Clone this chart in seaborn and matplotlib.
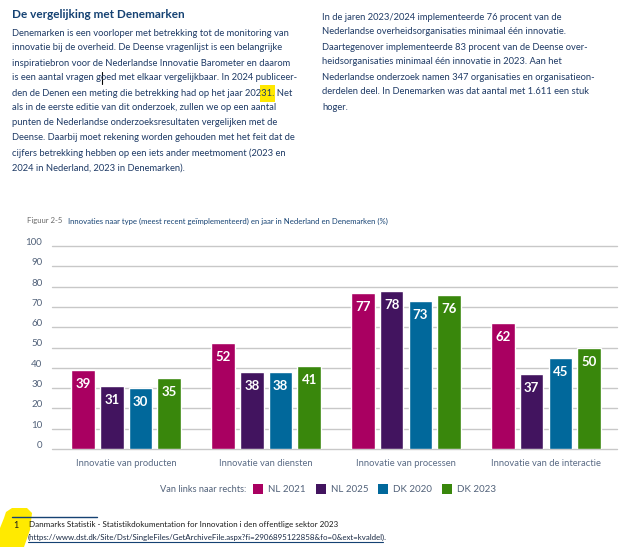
import matplotlib
matplotlib.use("Agg")
import matplotlib.pyplot as plt
import seaborn as sns
import pandas as pd
from matplotlib.patches import Rectangle, Polygon
from matplotlib.lines import Line2D
from matplotlib.transforms import ScaledTranslation

# ---------------- data ----------------
categories = ["Innovatie van producten", "Innovatie van diensten",
              "Innovatie van processen", "Innovatie van de interactie"]
series = ["NL 2021", "NL 2025", "DK 2020", "DK 2023"]
nl2021 = [39, 52, 77, 62]
nl2025 = [31, 38, 78, 37]
dk2020 = [30, 38, 73, 45]
dk2023 = [35, 41, 76, 50]
yticks = list(range(0, 101, 10))
colors = ["#A90061", "#42145F", "#01689B", "#39870C"]

title = "De vergelijking met Denemarken"
left_lines = [
    "Denemarken is een voorloper met betrekking tot de monitoring van",
    "innovatie bij de overheid. De Deense vragenlijst is een belangrijke",
    "inspiratiebron voor de Nederlandse Innovatie Barometer en daarom",
    "is een aantal vragen goed met elkaar vergelijkbaar. In 2024 publiceer-",
    "den de Denen een meting die betrekking had op het jaar 20231. Net",
    "als in de eerste editie van dit onderzoek, zullen we op een aantal",
    "punten de Nederlandse onderzoeksresultaten vergelijken met de",
    "Deense. Daarbij moet rekening worden gehouden met het feit dat de",
    "cijfers betrekking hebben op een iets ander meetmoment (2023 en",
    "2024 in Nederland, 2023 in Denemarken).",
]
right_lines = [
    "In de jaren 2023/2024 implementeerde 76 procent van de",
    "Nederlandse overheidsorganisaties minimaal één innovatie.",
    "Daartegenover implementeerde 83 procent van de Deense over-",
    "heidsorganisaties minimaal één innovatie in 2023. Aan het",
    "Nederlandse onderzoek namen 347 organisaties en organisatieon-",
    "derdelen deel. In Denemarken was dat aantal met 1.611 een stuk",
    "hoger.",
]
caption_num = "Figuur 2-5"
caption = "Innovaties naar type (meest recent geïmplementeerd) en jaar in Nederland en Denemarken (%)"
legend_prefix = "Van links naar rechts:"
foot_num = "1"
foot1 = "Danmarks Statistik - Statistikdokumentation for Innovation i den offentlige sektor 2023"
foot2 = "(https://www.dst.dk/Site/Dst/SingleFiles/GetArchiveFile.aspx?fi=2906895122858&fo=0&ext=kvaldel)."

# ---------------- setup ----------------
sns.set_theme(style="white")
plt.rcParams["font.family"] = ["Lato", "DejaVu Sans"]

W, H = 619, 547
fig = plt.figure(figsize=(W / 100, H / 100), dpi=100)
fig.patch.set_facecolor("white")
r = fig.canvas.get_renderer()


def fx(x):
    return x / W


def fy(y):
    return 1 - y / H


def fit(t, target):
    w = t.get_window_extent(r).width
    t.set_fontsize(t.get_fontsize() * target / w)
    return t


NAVY = "#154273"
BODY = "#1f3b66"

# ---------------- text blocks ----------------
fit(fig.text(fx(12), fy(14.5), title, color=NAVY, fontweight="bold",
             fontsize=11, va="center", ha="left"), 171)

ref = fig.text(fx(12), fy(33), left_lines[0], color=BODY, fontsize=8,
               va="center", ha="left")
fit(ref, 279)
body_fs = ref.get_fontsize()
for i, line in enumerate(left_lines[1:], start=1):
    fig.text(fx(12), fy(33 + 15 * i), line, color=BODY, fontsize=body_fs,
             va="center", ha="left")
for i, line in enumerate(right_lines):
    fig.text(fx(322), fy(17 + 15 * i), line, color=BODY, fontsize=body_fs,
             va="center", ha="left")

# yellow highlight behind "31" in line 5
pre = fig.text(0, 0, left_lines[4].split("20231")[0] + "202", fontsize=body_fs)
pw = pre.get_window_extent(r).width
pre.remove()
hx = 12 + pw - 1
fig.patches.append(Rectangle((fx(hx), fy(102)), 15 / W, 17 / H,
                             transform=fig.transFigure, facecolor="#FFE800",
                             edgecolor="none", zorder=-1))
# text cursor
fig.add_artist(Line2D([fx(101.5), fx(101.5)], [fy(84), fy(72)],
                      transform=fig.transFigure, color="black", lw=0.8))

# caption
c1 = fig.text(fx(27), fy(221), caption_num, color="#6b6b6b", fontsize=6.5,
              va="center", ha="left")
c2 = fig.text(fx(60), fy(221), caption, color=NAVY, fontsize=6.5,
              va="center", ha="left")
gap = 6
for _ in range(3):
    w1 = c1.get_window_extent(r).width
    w2 = c2.get_window_extent(r).width
    s = (365 - gap) / (w1 + w2)
    c1.set_fontsize(c1.get_fontsize() * s)
    c2.set_fontsize(c2.get_fontsize() * s)
w1 = c1.get_window_extent(r).width
c2.set_x(fx(27 + w1 + gap))

# ---------------- chart ----------------
ax = fig.add_axes([fx(52), fy(449), fx(617) - fx(52), fy(246) - fy(449)])
df = pd.DataFrame({
    "cat": categories * 4,
    "series": sum([[s] * len(categories) for s in series], []),
    "val": nl2021 + nl2025 + dk2020 + dk2023,
})
sns.barplot(data=df, x="cat", y="val", hue="series", hue_order=series,
            order=categories, palette=colors, saturation=1, width=0.82,
            errorbar=None, legend=False, ax=ax)
ax.set_xlim(-0.53, 3.507)
ax.set_ylim(0, 100)
ax.set_yticks(yticks)
ax.set_xlabel("")
ax.set_ylabel("")
for s in ax.spines.values():
    s.set_visible(False)
ax.yaxis.grid(True, color="#c8c8c8", lw=1.0)
ax.xaxis.grid(False)
ax.set_axisbelow(True)
for gl in ax.get_ygridlines():
    gl.set_clip_on(False)
ax.tick_params(axis="y", length=0, pad=7.0, labelsize=7, labelcolor="#52627a")
ax.tick_params(axis="x", length=0, pad=7.5, labelsize=7.5, labelcolor="#5a6b85")

bar_w = 23.5 / 140
off = ScaledTranslation(0, -14 / 100, fig.dpi_scale_trans)
for cont in ax.containers:
    for p in cont.patches:
        cx = p.get_x() + p.get_width() / 2
        p.set_x(cx - bar_w / 2)
        p.set_width(bar_w)
        h = p.get_height()
        ax.text(cx, h, f"{h:.0f}", transform=ax.transData + off,
                ha="center", va="center", color="white",
                fontweight="bold", fontsize=9.5)

fig.canvas.draw()
up = ScaledTranslation(0, 4.5 / 100, fig.dpi_scale_trans)
for lbl in ax.get_yticklabels():
    lbl.set_transform(lbl.get_transform() + up)
xl = ax.get_xticklabels()[0]
sc = 100 / xl.get_window_extent(r).width
ax.tick_params(axis="x", labelsize=7.5 * sc)

# ---------------- legend ----------------
lp = fit(fig.text(fx(160), fy(489), legend_prefix, color="#52627a",
                  fontsize=7.5, va="center", ha="left"), 87)
lfs = lp.get_fontsize()
x = 253
for name, col in zip(series, colors):
    fig.patches.append(Rectangle((fx(x), fy(494)), 10 / W, 10 / H,
                                 transform=fig.transFigure, facecolor=col,
                                 edgecolor="none"))
    t = fig.text(fx(x + 15), fy(489), name, color="#52627a", fontsize=lfs * 1.05,
                 va="center", ha="left")
    x = x + 15 + t.get_window_extent(r).width + 10

# ---------------- footnote ----------------
fig.patches.append(Polygon([(fx(6), fy(512)), (fx(12), fy(508)), (fx(27), fy(508)),
                            (fx(32), fy(513)), (fx(30), fy(530)), (fx(24), fy(547)),
                            (fx(0), fy(547)), (fx(0), fy(528)), (fx(4), fy(518))],
                           closed=True, transform=fig.transFigure,
                           facecolor="#FFEA00", edgecolor="none", zorder=-1))
fig.add_artist(Line2D([fx(12), fx(97)], [fy(517), fy(517)],
                      transform=fig.transFigure, color=NAVY, lw=1.0))
fig.text(fx(13), fy(525), foot_num, color="#1a1a1a", fontsize=6.5,
         va="center", ha="left")
f1 = fit(fig.text(fx(29), fy(525), foot1, color="#1a1a1a", fontsize=6.5,
                  va="center", ha="left"), 308)
f2 = fit(fig.text(fx(28), fy(537), foot2, color="#1a2a44", fontsize=6.5,
                  va="center", ha="left"), 355)
fig.add_artist(Line2D([fx(28), fx(383)], [fy(541.5), fy(541.5)],
                      transform=fig.transFigure, color=NAVY, lw=0.8))

fig.savefig("out.png", dpi=100)
